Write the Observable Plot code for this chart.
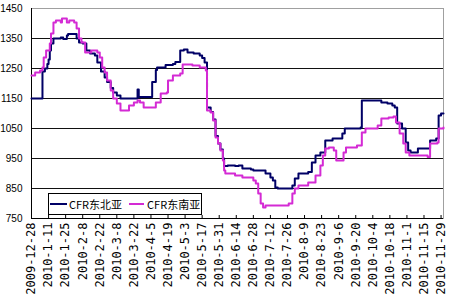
<!DOCTYPE html>
<html>
<head>
<meta charset="utf-8">
<script src="https://cdn.jsdelivr.net/npm/d3@7"></script>
<script src="https://cdn.jsdelivr.net/npm/@observablehq/plot@0.6"></script>
<style>
  html, body { margin: 0; padding: 0; background: #fff; }
  #chart { position: relative; width: 450px; height: 300px; }
  #chart svg { display: block; }
  #chart svg g[aria-label="x-axis tick label"] text { font-family: "DejaVu Sans Mono", monospace; font-size: 12px; }
  #chart svg g[aria-label="y-axis tick label"] text { font-family: "Liberation Sans", Arial, sans-serif; font-size: 10px; }
  .legend {
    position: absolute; left: 48px; top: 193px; width: 152px; height: 20px;
    border: 1px solid #000; background: #fff; display: flex; align-items: center;
    font-family: "Noto Sans CJK SC", sans-serif; font-size: 11px; color: #000; box-sizing: content-box;
  }
  .legend .sw { display: inline-block; height: 2px; }
</style>
</head>
<body>
<div id="chart"></div>
<script>
// ---- data ----
const seriesNames = ["CFR东北亚", "CFR东南亚"];
const seriesColors = ["#000066", "#d42ad4"];

const nbDates = ["2009-12-28","2010-01-06","2010-01-08","2010-01-10","2010-01-11","2010-01-12","2010-01-13","2010-01-15","2010-01-21","2010-01-23","2010-01-26","2010-01-27","2010-02-03","2010-02-05","2010-02-08","2010-02-11","2010-02-14","2010-02-18","2010-02-20","2010-02-23","2010-02-26","2010-02-28","2010-03-03","2010-03-05","2010-03-08","2010-03-11","2010-03-25","2010-03-26","2010-04-06","2010-04-09","2010-04-10","2010-04-17","2010-04-23","2010-04-25","2010-04-29","2010-05-02","2010-05-05","2010-05-10","2010-05-15","2010-05-17","2010-05-19","2010-05-21","2010-05-24","2010-05-26","2010-05-28","2010-05-30","2010-06-01","2010-06-03","2010-06-04","2010-06-07","2010-06-13","2010-06-16","2010-06-19","2010-06-26","2010-06-28","2010-07-08","2010-07-12","2010-07-14","2010-07-16","2010-07-18","2010-07-27","2010-07-30","2010-08-01","2010-08-04","2010-08-12","2010-08-15","2010-08-18","2010-08-22","2010-08-26","2010-09-01","2010-09-09","2010-09-11","2010-09-24","2010-09-25","2010-10-08","2010-10-11","2010-10-16","2010-10-20","2010-10-22","2010-10-24","2010-10-28","2010-10-31","2010-11-02","2010-11-04","2010-11-10","2010-11-20","2010-11-25","2010-11-27","2010-11-29","2010-12-01"];
const nbValues = [1150,1240,1250,1265,1280,1310,1333,1350,1353,1348,1360,1365,1350,1337,1333,1310,1300,1293,1270,1240,1220,1205,1185,1170,1160,1150,1180,1155,1205,1245,1253,1262,1265,1272,1310,1313,1303,1300,1293,1285,1270,1120,1105,1080,1025,1000,980,950,925,927,925,927,917,913,910,900,887,877,853,850,850,860,883,900,905,937,960,970,1010,1017,1033,1050,1053,1143,1143,1137,1133,1127,1120,1067,1050,1003,977,970,983,1010,1017,1093,1100,1100];

const seDates = ["2009-12-28","2009-12-31","2010-01-04","2010-01-06","2010-01-07","2010-01-09","2010-01-12","2010-01-13","2010-01-15","2010-01-17","2010-01-21","2010-01-22","2010-01-26","2010-01-28","2010-02-01","2010-02-03","2010-02-05","2010-02-07","2010-02-10","2010-02-15","2010-02-20","2010-02-22","2010-02-24","2010-02-26","2010-02-28","2010-03-03","2010-03-05","2010-03-08","2010-03-11","2010-03-18","2010-03-22","2010-03-25","2010-03-27","2010-03-30","2010-04-09","2010-04-13","2010-04-18","2010-04-19","2010-04-23","2010-04-29","2010-05-01","2010-05-06","2010-05-09","2010-05-15","2010-05-20","2010-05-21","2010-05-24","2010-05-26","2010-05-28","2010-05-30","2010-06-01","2010-06-03","2010-06-04","2010-06-05","2010-06-13","2010-06-19","2010-06-28","2010-06-30","2010-07-02","2010-07-04","2010-07-06","2010-07-08","2010-07-27","2010-07-30","2010-08-01","2010-08-04","2010-08-12","2010-08-18","2010-08-22","2010-08-24","2010-08-26","2010-08-29","2010-09-02","2010-09-04","2010-09-08","2010-09-10","2010-09-12","2010-09-21","2010-09-25","2010-09-28","2010-10-08","2010-10-11","2010-10-17","2010-10-21","2010-10-23","2010-10-26","2010-10-29","2010-10-31","2010-11-03","2010-11-18","2010-11-20","2010-11-26","2010-11-27","2010-12-01"];
const seValues = [1227,1237,1243,1253,1287,1310,1333,1367,1403,1410,1403,1417,1403,1410,1403,1383,1350,1337,1303,1310,1303,1287,1253,1237,1210,1177,1150,1133,1110,1127,1137,1143,1137,1120,1137,1167,1170,1210,1227,1233,1263,1263,1260,1253,1243,1110,1103,1077,1020,1000,977,943,910,900,893,887,877,867,833,800,787,793,800,833,850,860,870,893,927,960,983,987,977,943,943,970,987,993,1037,1050,1060,1083,1087,1090,1070,1033,1000,970,960,955,1000,1003,1050,1053];

const xTickLabels = ["2009-12-28","2010-1-11","2010-1-25","2010-2-8","2010-2-22","2010-3-8","2010-3-22","2010-4-5","2010-4-19","2010-5-3","2010-5-17","2010-5-31","2010-6-14","2010-6-28","2010-7-12","2010-7-26","2010-8-9","2010-8-23","2010-9-6","2010-9-20","2010-10-4","2010-10-18","2010-11-1","2010-11-15","2010-11-29"];
const yTicks = [750, 850, 950, 1050, 1150, 1250, 1350, 1450];
const gridValues = [850, 950, 1050, 1150, 1250, 1350];
const xDomain = ["2009-12-28", "2010-12-01"];

// ---- build ----
const parse = d3.utcParse("%Y-%m-%d");
const data = [
  ...nbDates.map((d, i) => ({date: parse(d), value: nbValues[i], series: seriesNames[0]})),
  ...seDates.map((d, i) => ({date: parse(d), value: seValues[i], series: seriesNames[1]}))
];
const tickDates = xTickLabels.map(parse);
const x0 = parse(xDomain[0]), x1 = parse(xDomain[1]);
const y0 = yTicks[0], y1 = yTicks[yTicks.length - 1];

const svg = Plot.plot({
  width: 450,
  height: 300,
  marginLeft: 31,
  marginRight: 7,
  marginTop: 8,
  marginBottom: 82,
  x: {type: "utc", domain: [x0, x1], label: null},
  y: {domain: [y0, y1], label: null},
  color: {domain: seriesNames, range: seriesColors},
  style: {background: "#fff", color: "#000"},
  marks: [
    Plot.frame({stroke: "#a0a0a0"}),
    Plot.ruleY(gridValues, {stroke: "#111", strokeWidth: 1}),
    Plot.ruleY([y0], {stroke: "#000"}),
    Plot.ruleX([x0], {stroke: "#000"}),
    Plot.ruleX(tickDates, {y1: y0, y2: y0 + 10, stroke: "#000"}),
    Plot.axisY({ticks: yTicks, tickSize: 0, tickPadding: 9, label: null, tickFormat: d => String(d)}),
    Plot.axisX({ticks: tickDates, tickSize: 0, tickPadding: 4, tickRotate: -90, label: null, tickFormat: (d, i) => xTickLabels[i]}),
    Plot.line(data, {x: "date", y: "value", z: "series", stroke: "series", strokeWidth: 2, curve: "step-after"})
  ]
});
const chart = document.getElementById("chart");
chart.appendChild(svg);

const legend = document.createElement("div");
legend.className = "legend";
legend.innerHTML =
  `<span class="sw" style="width:17px;margin-left:1px;background:${seriesColors[0]}"></span>` +
  `<span style="margin-left:2px">${seriesNames[0]}</span>` +
  `<span class="sw" style="width:15px;margin-left:7px;background:${seriesColors[1]}"></span>` +
  `<span style="margin-left:3px">${seriesNames[1]}</span>`;
chart.appendChild(legend);
</script>
</body>
</html>
